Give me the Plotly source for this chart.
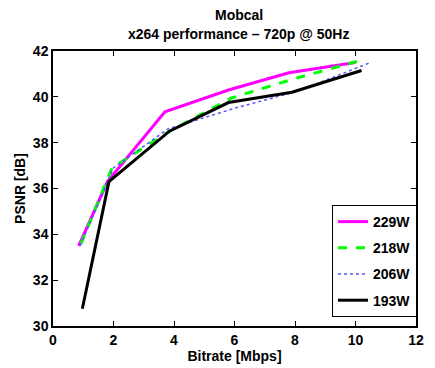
import plotly.graph_objects as go

x229 = [0.85, 1.80, 3.70, 5.80, 7.80, 10.00]
y229 = [33.5, 36.3, 39.35, 40.3, 41.05, 41.5]
x218 = [0.93, 1.95, 3.85, 5.90, 8.00, 10.20]
y218 = [33.6, 36.9, 38.5, 39.95, 40.8, 41.6]
x206 = [0.90, 2.00, 3.80, 6.00, 8.10, 10.50]
y206 = [33.5, 36.9, 38.6, 39.5, 40.25, 41.5]
x193 = [0.97, 1.85, 3.85, 5.80, 7.90, 10.20]
y193 = [30.75, 36.3, 38.5, 39.75, 40.2, 41.15]

xticks = [0, 2, 4, 6, 8, 10, 12]
yticks = [30, 32, 34, 36, 38, 40, 42]
title_lines = ["Mobcal", "x264 performance – 720p @ 50Hz"]

FONT = "Liberation Sans, Arial, sans-serif"
BOLD14 = dict(family=FONT, size=14, color="black", weight="bold")

fig = go.Figure()
fig.add_trace(go.Scatter(x=x229, y=y229, mode="lines", name="229W", legendgroup="a",
                         line=dict(color="#ff00ff", width=3)))
fig.add_trace(go.Scatter(x=x218, y=y218, mode="lines", name="218W", legendgroup="b",
                         line=dict(color="#00ff00", width=3, dash="dash")))
fig.add_trace(go.Scatter(x=x206, y=y206, mode="lines", name="206W", legendgroup="c",
                         line=dict(color="#5555ff", width=1.5, dash="dot")))
fig.add_trace(go.Scatter(x=x193, y=y193, mode="lines", name="193W", legendgroup="d",
                         line=dict(color="#000000", width=3)))

axis_common = dict(showline=True, linecolor="black", linewidth=1.5, mirror="ticks",
                   ticks="inside", ticklen=5, tickcolor="black", showgrid=False,
                   zeroline=False, tickfont=BOLD14)

fig.update_layout(
    width=435, height=368,
    margin=dict(l=53, r=11, t=51, b=42),
    paper_bgcolor="white", plot_bgcolor="white",
    xaxis=dict(range=[0, 12], tickvals=xticks, **axis_common,
               title=dict(text="Bitrate [Mbps]", standoff=0, font=BOLD14)),
    yaxis=dict(range=[30, 42], tickvals=yticks, **axis_common,
               title=dict(text="PSNR [dB]", standoff=4, font=BOLD14)),
    legend=dict(x=0.7685, y=0.44, xanchor="left", yanchor="top",
                bordercolor="black", borderwidth=1, bgcolor="white",
                tracegroupgap=5, itemwidth=30, font=BOLD14),
    showlegend=True,
)

for text, ypos in zip(title_lines, [1.131, 1.062]):
    fig.add_annotation(text=text, xref="paper", yref="paper", x=0.512, y=ypos,
                       xanchor="center", yanchor="middle", showarrow=False, font=BOLD14)

fig.write_html("out.html")
